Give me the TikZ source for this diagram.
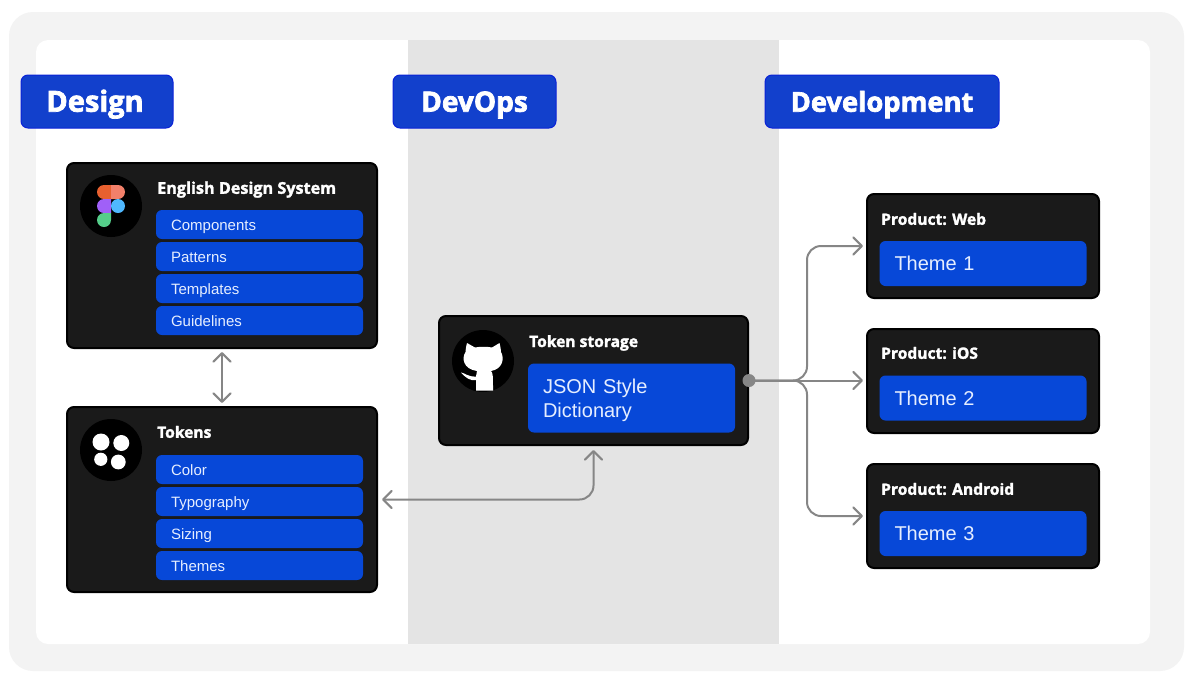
\documentclass[tikz,border=0pt]{standalone}
\usepackage{fontspec}
\usetikzlibrary{arrows.meta}
\setmainfont{Liberation Sans}
\newfontfamily\headfont[FakeBold=1.8]{Open Sans Bold}
\newfontfamily\bannerfont[FakeBold=2.5]{Open Sans Bold}
\definecolor{framegrey}{HTML}{F3F3F3}
\definecolor{bandgrey}{HTML}{E4E4E4}
\definecolor{cardblack}{HTML}{1A1A1A}
\definecolor{itemblue}{HTML}{0748D8}
\definecolor{labelblue}{HTML}{1240CC}
\definecolor{labeledge}{HTML}{0A22D8}
\definecolor{linkgrey}{HTML}{868686}
\definecolor{itemtext}{HTML}{E6EEFF}
\definecolor{figmared}{HTML}{E8602F}
\definecolor{figmacoral}{HTML}{F2806A}
\definecolor{figmapurple}{HTML}{A060F8}
\definecolor{figmablue}{HTML}{4FB8FF}
\definecolor{figmagreen}{HTML}{55CE8A}
\tikzset{
  x=1pt,y=-1pt,
  sectionlabel/.style={draw=labeledge,line width=1pt,fill=labelblue,rounded corners=7pt,
    text=white,inner sep=0pt,minimum height=53pt,text height=21pt,text depth=0.6pt,
    font=\bannerfont\fontsize{28}{28}\selectfont},
  card/.style={draw=black,line width=2pt,fill=cardblack,rounded corners=7pt,inner sep=0pt},
  cardtitle/.style={anchor=base west,inner sep=0pt,text=white,
    font=\headfont\fontsize{15.6}{15.6}\selectfont},
  listitem/.style={fill=itemblue,rounded corners=6pt,inner ysep=0pt,inner xsep=15pt,
    minimum height=29pt,text=itemtext,align=left,text width=177pt,
    text height=12pt,text depth=1pt,font=\fontsize{15}{15}\selectfont},
  bigitem/.style={fill=itemblue,rounded corners=6pt,inner ysep=0pt,inner xsep=15pt,
    text=itemtext,align=left,text width=177pt,font=\fontsize{20}{24.5}\selectfont},
  oneline/.style={minimum height=45pt,text height=15.4pt,text depth=1pt},
  badge/.style={circle,fill=black,minimum size=62pt,inner sep=0pt},
  link/.style={draw=linkgrey,line width=2pt,line cap=round,rounded corners=14pt},
  onearrow/.style={-{Straight Barb[length=8.5pt,width=17pt,line width=2.2pt,round]}},
  twoarrow/.style={{Straight Barb[length=8.5pt,width=17pt,line width=2.2pt,round]}-{Straight Barb[length=8.5pt,width=17pt,line width=2.2pt,round]}},
}
\begin{document}
\begin{tikzpicture}
\useasboundingbox (0,0) rectangle (1200,686);
% page frame and the three columns
\fill[white] (0,0) rectangle (1200,686);
\fill[framegrey,rounded corners=24pt] (9,12) rectangle (1184,671);
\fill[white,rounded corners=12pt] (36,40) rectangle (1150,644);
\fill[bandgrey] (408,40) rectangle (779,644);

% column headings
\node[sectionlabel,minimum width=152pt,font=\bannerfont\fontsize{29}{29}\selectfont] (lblDesign) at (97,101.5) {Design\kern4pt};
\node[sectionlabel,minimum width=163pt] (lblDevOps) at (474.5,101.5) {DevOps};
\node[sectionlabel,minimum width=234pt,font=\bannerfont\fontsize{27.3}{27.3}\selectfont] (lblDev) at (882,101.5) {Development};

% design column
\node[card,minimum width=310pt,minimum height=185pt] (system) at (222,255.5) {};
\node[badge] (figmaBadge) at (111,206) {};
\node[cardtitle,font=\headfont\fontsize{16.2}{16.2}\selectfont] (systemTitle) at (157,193.8) {English Design System};
\node[listitem] (i1) at (259.5,224.5) {Components};
\node[listitem] (i2) at (259.5,256.5) {Patterns};
\node[listitem] (i3) at (259.5,288.5) {Templates};
\node[listitem] (i4) at (259.5,320.5) {Guidelines};

\node[card,minimum width=310pt,minimum height=185pt] (tokens) at (222,499.5) {};
\node[badge] (tokenBadge) at (111,450) {};
\node[cardtitle] (tokensTitle) at (157,437.8) {Tokens};
\node[listitem] (t1) at (259.5,469.5) {Color};
\node[listitem] (t2) at (259.5,501.5) {Typography};
\node[listitem] (t3) at (259.5,533.5) {Sizing};
\node[listitem] (t4) at (259.5,565.5) {Themes};

% Figma mark
\fill[figmared] (104,192) circle[radius=7pt] (104,185) rectangle (111,199);
\fill[figmacoral] (118,192) circle[radius=7pt] (111,185) rectangle (118,199);
\fill[figmapurple] (104,206) circle[radius=7pt] (104,199) rectangle (111,213);
\fill[figmablue] (118,206) circle[radius=7pt];
\fill[figmagreen] (104,220) circle[radius=7pt] (104,213) rectangle (111,220);

% four-petal tokens mark
\fill[white] (101,442) circle[radius=8.5pt] (121.3,443) circle[radius=8pt]
  (100.8,459.3) circle[radius=6.6pt] (118.3,462) circle[radius=7.4pt];

% devops column
\node[card,minimum width=309pt,minimum height=129pt] (store) at (593.5,380.5) {};
\node[badge] (gitBadge) at (483,361) {};
\node[cardtitle] (storeTitle) at (529,347) {Token storage};
\node[bigitem,minimum height=69pt] (json) at (631.5,398) {\rule{0pt}{19pt}JSON Style\\Dictionary};

% octocat silhouette
\fill[white] (467,343) -- (475,347.5) .. controls (480,346.5) and (487,346.5) .. (492,347.5)
  -- (499.5,343) .. controls (500.5,347) and (501,350) .. (501,352)
  .. controls (504.5,358) and (503,369) .. (491,371)
  .. controls (493,373) and (493,376) .. (493,390.5) -- (476,390.5) -- (476,380)
  .. controls (470,381) and (466,378) .. (461,372.5)
  .. controls (465,373) and (468,377) .. (476,376.5)
  .. controls (476,374) and (476,373) .. (477,371)
  .. controls (463,369) and (461.5,358) .. (465.5,352)
  .. controls (465.5,350) and (466,347) .. (467,343) -- cycle;

% development column
\node[card,minimum width=232pt,minimum height=104pt] (web) at (983,246) {};
\node[cardtitle] (webTitle) at (881,224.8) {Product: Web};
\node[bigitem,oneline] (th1) at (983,263.5) {Theme 1};
\node[card,minimum width=232pt,minimum height=104pt] (ios) at (983,381) {};
\node[cardtitle] (iosTitle) at (881,358.8) {Product: iOS};
\node[bigitem,oneline] (th2) at (983,398) {Theme 2};
\node[card,minimum width=232pt,minimum height=104pt] (android) at (983,516) {};
\node[cardtitle] (androidTitle) at (881,494.8) {Product: Android};
\node[bigitem,oneline] (th3) at (983,533.5) {Theme 3};

% connectors
\draw[link,twoarrow,shorten <=3pt,shorten >=3pt] (system.south) -- (tokens.north);
\draw[link,twoarrow,shorten <=4pt,shorten >=4pt] (tokens.east) -| (store.south);
\node[circle,fill=linkgrey,minimum size=13pt,inner sep=0pt] (tap) at (store.east) {};
\coordinate (fork) at (807,380.5);
\draw[link,onearrow,shorten >=3pt] (tap.center) -- (ios.west |- tap.center);
\draw[link,onearrow,shorten >=3pt] (tap.center) -- (fork) |- (web.west);
\draw[link,onearrow,shorten >=3pt] (tap.center) -- (fork) |- (android.west);
\end{tikzpicture}
\end{document}
